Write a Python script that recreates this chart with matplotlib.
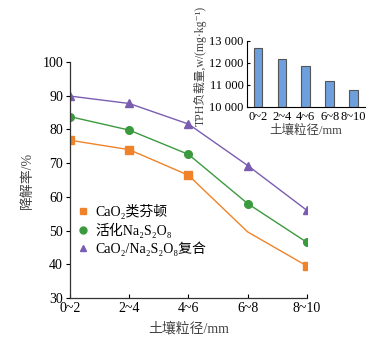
import matplotlib.pyplot as plt
from matplotlib.lines import Line2D

plt.rcParams['font.family'] = ['Liberation Serif', 'DejaVu Serif', 'Noto Sans CJK SC']

# データ
sizes = ['0~2', '2~4', '4~6', '6~8', '8~10']
cao2 = [76.8, 74.0, 66.4, 49.6, 39.5]
na2s2o8 = [83.8, 79.8, 72.6, 58.0, 46.5]
combo = [89.9, 87.7, 81.6, 69.3, 56.0]
tph = [12650, 12180, 11830, 11170, 10750]

labels = ['CaO₂类芬顿', '活化Na₂S₂O₈', 'CaO₂/Na₂S₂O₈复合']
colors = ['#f0832a', '#3b9a3e', '#7a5db0']
markers = ['s', 'o', '^']

fig = plt.figure(figsize=(3.87, 3.39), dpi=100)
ax = fig.add_axes([0.181, 0.121, 0.612, 0.696])

x = list(range(len(sizes)))
for ys, c, m, i in zip([cao2, na2s2o8, combo], colors, markers, range(3)):
    ax.plot(x, ys, color=c, lw=1.0)
    # CaO2 は 6~8 のマーカーが無い
    idx = [k for k in x if not (i == 0 and k == 3)]
    ax.plot(idx, [ys[k] for k in idx], ls='none', marker=m, color=c, ms=5.5)

ax.set_xlim(0, 4)
ax.set_ylim(30, 100)
ax.set_xticks(x)
ax.set_xticklabels(sizes, fontsize=10)
ax.set_yticks(range(30, 101, 10))
ax.tick_params(axis='y', direction='out', length=3, width=0.8, labelsize=10, pad=2)
ax.tick_params(axis='x', direction='in', length=3, width=0.8, pad=3)
for s in ['top', 'right']:
    ax.spines[s].set_visible(False)
for s in ['left', 'bottom']:
    ax.spines[s].set_linewidth(0.9)
    ax.spines[s].set_color('#333333')
ax.set_xlabel('土壤粒径/mm', fontsize=10, labelpad=5, color='#444444')
ax.set_ylabel('降解率/%', fontsize=10, labelpad=6, color='#444444')

handles = [Line2D([], [], ls='none', marker=m, color=c, ms=5) for m, c in zip(markers, colors)]
ax.legend(handles, labels, loc='upper left', bbox_to_anchor=(-0.02, 0.45), frameon=False,
          fontsize=10, handlelength=0.8, handletextpad=0.5, labelspacing=0.25)

# 挿入図
ins = fig.add_axes([0.637, 0.685, 0.307, 0.195])
ins.bar(range(len(sizes)), tph, width=0.35, color='#6d9fdc', edgecolor='#555555', lw=0.8)
ins.set_xlim(-0.47, 4.49)
ins.set_ylim(10000, 13000)
ins.set_yticks([10000, 11000, 12000, 13000])
ins.set_yticklabels(['10 000', '11 000', '12 000', '13 000'], fontsize=9)
ins.set_xticks(range(len(sizes)))
ins.set_xticklabels(sizes, fontsize=9)
ins.tick_params(axis='y', direction='in', length=2.5, pad=2)
ins.tick_params(axis='x', length=0, pad=3)
for s in ['top', 'right']:
    ins.spines[s].set_visible(False)
ins.set_xlabel('土壤粒径/mm', fontsize=9, labelpad=1, color='#444444')
ins.set_ylabel('TPH负载量,w/(mg·kg⁻¹)', fontsize=8.5, color='#444444')
ins.yaxis.set_label_coords(-0.33, 0.62)

fig.savefig('out.png', dpi=100)
